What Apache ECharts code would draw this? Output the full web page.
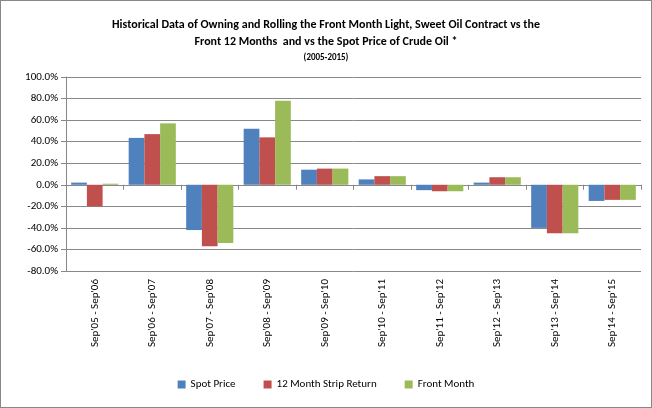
<!DOCTYPE html>
<html><head><meta charset="utf-8">
<script src="https://cdn.jsdelivr.net/npm/echarts@6/dist/echarts.min.js"></script>
<style>html,body{margin:0;padding:0;background:#fff}#c{width:650px;height:406px;border:1px solid #888}</style>
</head><body><div id="c"></div>
<script>
const categories=["Sep'05 - Sep'06","Sep'06 - Sep'07","Sep'07 - Sep'08","Sep'08 - Sep'09","Sep'09 - Sep'10","Sep'10 - Sep'11","Sep'11 - Sep'12","Sep'12 - Sep'13","Sep'13 - Sep'14","Sep'14 - Sep'15"];
const spotPrice=[2,43.5,-42,52,14,5,-5,2,-40,-15];
const stripReturn=[-20,47,-57,44,15,8,-6,7,-45,-14];
const frontMonth=[1,57,-54,78,15,8,-6,7,-45,-14];
const chart=echarts.init(document.getElementById('c'));
const f='Calibri, Carlito, "Liberation Sans", Arial, sans-serif';
chart.setOption({
 title:{text:'Historical Data of Owning and Rolling the Front Month Light, Sweet Oil Contract vs the\nFront 12 Months  and vs the Spot Price of Crude Oil *',subtext:'(2005-2015)',left:'center',top:10,itemGap:3,
  textStyle:{fontSize:12,fontWeight:'bold',color:'#000',fontFamily:f,lineHeight:17},subtextStyle:{fontSize:9,fontWeight:'bold',color:'#000',fontFamily:f}},
 legend:{bottom:12,itemWidth:8,itemHeight:8,itemGap:28,icon:'rect',textStyle:{fontSize:11,color:'#000',fontFamily:f}},
 grid:{left:65,right:10,top:76,bottom:136},
 xAxis:{type:'category',data:categories,axisTick:{show:true,alignWithLabel:false,lineStyle:{color:'#888'}},axisLine:{lineStyle:{color:'#888'}},
  axisLabel:{rotate:90,fontSize:11,color:'#000',fontFamily:f,interval:0}},
 yAxis:{type:'value',min:-80,max:100,interval:20,axisLine:{show:true,lineStyle:{color:'#888'}},axisTick:{show:true,lineStyle:{color:'#888'}},
  splitLine:{lineStyle:{color:'#888'}},axisLabel:{formatter:v=>v.toFixed(1)+'%',fontSize:11,color:'#000',fontFamily:f}},
 series:[
  {name:'Spot Price',type:'bar',data:spotPrice,itemStyle:{color:'#4F81BD'},barGap:'0%',barCategoryGap:'18%'},
  {name:'12 Month Strip Return',type:'bar',data:stripReturn,itemStyle:{color:'#C0504D'}},
  {name:'Front Month',type:'bar',data:frontMonth,itemStyle:{color:'#9BBB59'}}
 ]
});
</script></body></html>
